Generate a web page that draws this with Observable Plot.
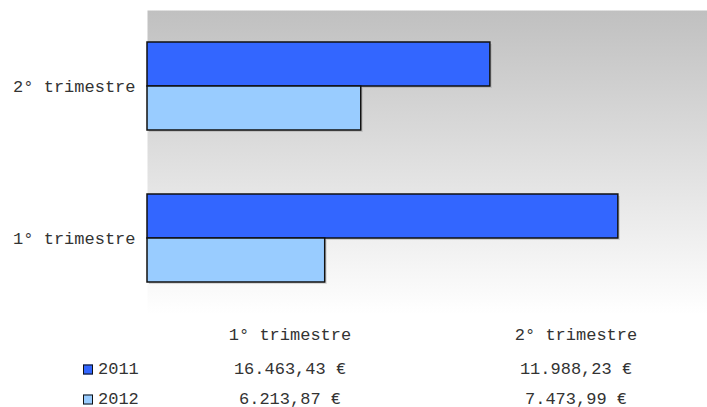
<!DOCTYPE html>
<html>
<head>
<meta charset="utf-8">
<script src="https://cdn.jsdelivr.net/npm/d3@7"></script>
<script src="https://cdn.jsdelivr.net/npm/@observablehq/plot@0.6"></script>
<style>
  html, body { margin: 0; padding: 0; background: #fff; overflow: hidden; }
  body { width: 707px; height: 407px; font-family: "Liberation Mono", "Courier New", monospace; color: #333; }
  #chart { position: relative; width: 707px; }
  #table { position: relative; width: 707px; height: 89px; font-size: 17px; }
  #table .cell { position: absolute; transform: translate(-50%, -50%); white-space: pre; }
  #table .key { position: absolute; transform: translateY(-50%); white-space: pre; display: flex; align-items: center; }
  #table .swatch { width: 8px; height: 8px; border: 1px solid #111; margin-right: 5px; }
</style>
</head>
<body>
<div id="chart"></div>
<div id="table"></div>
<script>
// Quarterly totals per year
const quarters = ["2° trimestre", "1° trimestre"];   // top to bottom
const tableQuarters = ["1° trimestre", "2° trimestre"]; // table column order
const years = ["2011", "2012"];
const values2011 = { "1° trimestre": 16463.43, "2° trimestre": 11988.23 };
const values2012 = { "1° trimestre": 6213.87, "2° trimestre": 7473.99 };
const yearColors = ["#3366FF", "#99CCFF"];

const series = { "2011": values2011, "2012": values2012 };
const rows = years.flatMap(year => quarters.map(q => ({ quarter: q, year, value: series[year][q] })));
const rows2011 = rows.filter(d => d.year === "2011");
const rows2012 = rows.filter(d => d.year === "2012");

const euro = d3.formatLocale({ decimal: ",", thousands: ".", grouping: [3], currency: ["", " €"] }).format("$,.2f");

const barStyle = { x: "value", y: "quarter", fill: "year", stroke: "#111", strokeWidth: 1.5 };
const shadowStyle = { x: "value", y: "quarter", fill: "#888", fillOpacity: 0.3, dx: 2, dy: 2 };

const plot = Plot.plot({
  width: 707,
  height: 318,
  marginTop: 10,
  marginBottom: 4,
  marginLeft: 147,
  marginRight: -12,
  style: { fontFamily: "'Liberation Mono', 'Courier New', monospace", fontSize: "17px", color: "#333", background: "transparent" },
  x: { domain: [0, 20000], axis: null },
  y: { domain: quarters, paddingInner: 64 / 152, paddingOuter: 32 / 152, label: null },
  color: { domain: years, range: yearColors },
  marks: [
    Plot.frame({ fill: "url(#bg)", stroke: "none" }),
    // faint drop shadows
    Plot.barX(rows2011, { ...shadowStyle, insetBottom: 44 }),
    Plot.barX(rows2012, { ...shadowStyle, insetTop: 44 }),
    // the two years share one band: 2011 fills its upper half, 2012 its lower half
    Plot.barX(rows2011, { ...barStyle, insetBottom: 44 }),
    Plot.barX(rows2012, { ...barStyle, insetTop: 44 }),
    Plot.axisY({ tickSize: 0, tickPadding: 12, fontSize: 17, label: null })
  ]
});

// vertical grey-to-white background gradient for the plot area
const defs = d3.select(plot).insert("defs", ":first-child");
const grad = defs.append("linearGradient").attr("id", "bg").attr("x1", 0).attr("y1", 0).attr("x2", 0).attr("y2", 1);
grad.append("stop").attr("offset", "0%").attr("stop-color", "#c0c0c0");
grad.append("stop").attr("offset", "100%").attr("stop-color", "#ffffff");

document.getElementById("chart").append(plot);

// data table below the chart, columns centred at a quarter and three quarters of the x range
const x = plot.scale("x");
const colX = [
  x.range[0] + (x.range[1] - x.range[0]) * 0.25,
  x.range[0] + (x.range[1] - x.range[0]) * 0.75
];
const rowY = [17, 51, 81];
const table = d3.select("#table");
tableQuarters.forEach((q, i) => {
  table.append("div").attr("class", "cell").style("left", colX[i] + "px").style("top", rowY[0] + "px").text(q);
});
years.forEach((year, j) => {
  const key = table.append("div").attr("class", "key").style("left", "83px").style("top", rowY[j + 1] + "px");
  key.append("div").attr("class", "swatch").style("background", yearColors[j]);
  key.append("span").text(year);
  tableQuarters.forEach((q, i) => {
    table.append("div").attr("class", "cell").style("left", colX[i] + "px").style("top", rowY[j + 1] + "px").text(euro(series[year][q]));
  });
});
</script>
</body>
</html>
